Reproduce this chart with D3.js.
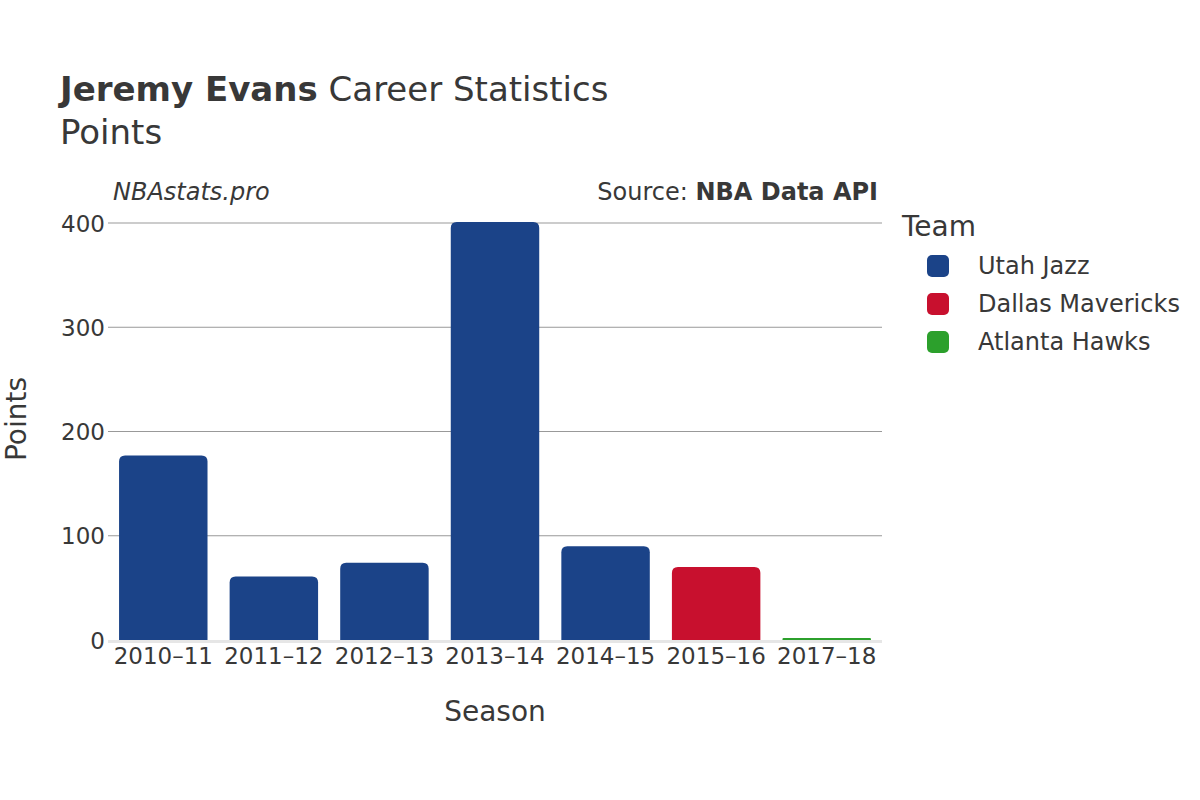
<!DOCTYPE html>
<html><head><meta charset="utf-8">
<script src="https://cdn.jsdelivr.net/npm/d3@7"></script>
<style>body{margin:0;background:#fff;font-family:"DejaVu Sans",sans-serif;}</style>
</head><body><svg id="c" width="1200" height="800"></svg>
<script>
const seasons = ["2010–11","2011–12","2012–13","2013–14","2014–15","2015–16","2017–18"];
const points = [177, 61, 74, 401, 90, 70, 2];
const teams = ["Utah Jazz","Utah Jazz","Utah Jazz","Utah Jazz","Utah Jazz","Dallas Mavericks","Atlanta Hawks"];
const legendTeams = ["Utah Jazz","Dallas Mavericks","Atlanta Hawks"];
const teamColors = ["#1b4388","#c8102e","#2ca02c"];
const yTicks = [0,100,200,300,400];

const svg = d3.select("#c");
const m = {l:108, r:882, t:223, b:640};
const x = d3.scaleBand().domain(seasons).range([m.l, m.r]).paddingInner(0.2).paddingOuter(0.1);
const y = d3.scaleLinear().domain([0,400]).range([m.b, m.t]);
const color = d3.scaleOrdinal().domain(legendTeams).range(teamColors);
const txt = "#383838";

// gridlines
svg.append("g").selectAll("line").data(yTicks.filter(d=>d>0)).join("line")
  .attr("x1", m.l).attr("x2", m.r).attr("y1", d=>y(d)).attr("y2", d=>y(d))
  .attr("stroke", "#999").attr("stroke-width", 1);
// baseline
svg.append("line").attr("x1", m.l).attr("x2", m.r).attr("y1", y(0)+1.5).attr("y2", y(0)+1.5)
  .attr("stroke", "#e6e6e6").attr("stroke-width", 3);

// bars
svg.append("g").selectAll("path").data(seasons).join("path")
  .attr("d", (s,i)=>{
    const x0 = x(s), w = x.bandwidth(), y0 = y(0), y1 = y(points[i]);
    const r = Math.min(6, (y0-y1)/2, w/2);
    return `M${x0},${y0}V${y1+r}Q${x0},${y1} ${x0+r},${y1}H${x0+w-r}Q${x0+w},${y1} ${x0+w},${y1+r}V${y0}Z`;
  })
  .attr("fill", (s,i)=>color(teams[i]));

// y axis
const ya = svg.append("g").attr("transform", `translate(${m.l},0)`)
  .call(d3.axisLeft(y).tickValues(yTicks).tickSize(0).tickPadding(3));
ya.select(".domain").remove();
ya.selectAll("text").attr("font-size", 23).attr("fill", txt).attr("font-family","DejaVu Sans").attr("dy","0.35em");

// x axis
const xa = svg.append("g").attr("transform", `translate(0,${m.b})`)
  .call(d3.axisBottom(x).tickSize(0).tickPadding(8));
xa.select(".domain").remove();
xa.selectAll("text").attr("font-size", 23).attr("fill", txt).attr("font-family","DejaVu Sans");

// titles
const t = svg.append("text").attr("x", 60).attr("y", 101).attr("font-size", 34).attr("fill", txt);
t.append("tspan").attr("font-weight", "bold").text("Jeremy Evans");
t.append("tspan").text(" Career Statistics");
svg.append("text").attr("x", 60).attr("y", 144).attr("font-size", 34).attr("fill", txt).text("Points");

svg.append("text").attr("x", 113).attr("y", 200).attr("font-size", 24).attr("font-style","italic").attr("fill", txt).text("NBAstats.pro");
const src = svg.append("text").attr("x", 878).attr("y", 200).attr("font-size", 24).attr("text-anchor","end").attr("fill", txt);
src.append("tspan").text("Source: ");
src.append("tspan").attr("font-weight","bold").text("NBA Data API");

svg.append("text").attr("transform","translate(26,419) rotate(-90)").attr("text-anchor","middle")
  .attr("font-size", 28).attr("fill", txt).text("Points");
svg.append("text").attr("x", 495).attr("y", 721).attr("text-anchor","middle")
  .attr("font-size", 28).attr("fill", txt).text("Season");

// legend
svg.append("text").attr("x", 902).attr("y", 236).attr("font-size", 28).attr("fill", txt).text("Team");
const lg = svg.append("g").selectAll("g").data(legendTeams).join("g")
  .attr("transform", (d,i)=>`translate(927,${266 + i*38})`);
lg.append("rect").attr("x",0).attr("y",-11).attr("width",22).attr("height",22).attr("rx",5).attr("fill", d=>color(d));
lg.append("text").attr("x", 51).attr("dy","0.35em").attr("font-size", 24).attr("fill", txt).text(d=>d);
</script></body></html>
